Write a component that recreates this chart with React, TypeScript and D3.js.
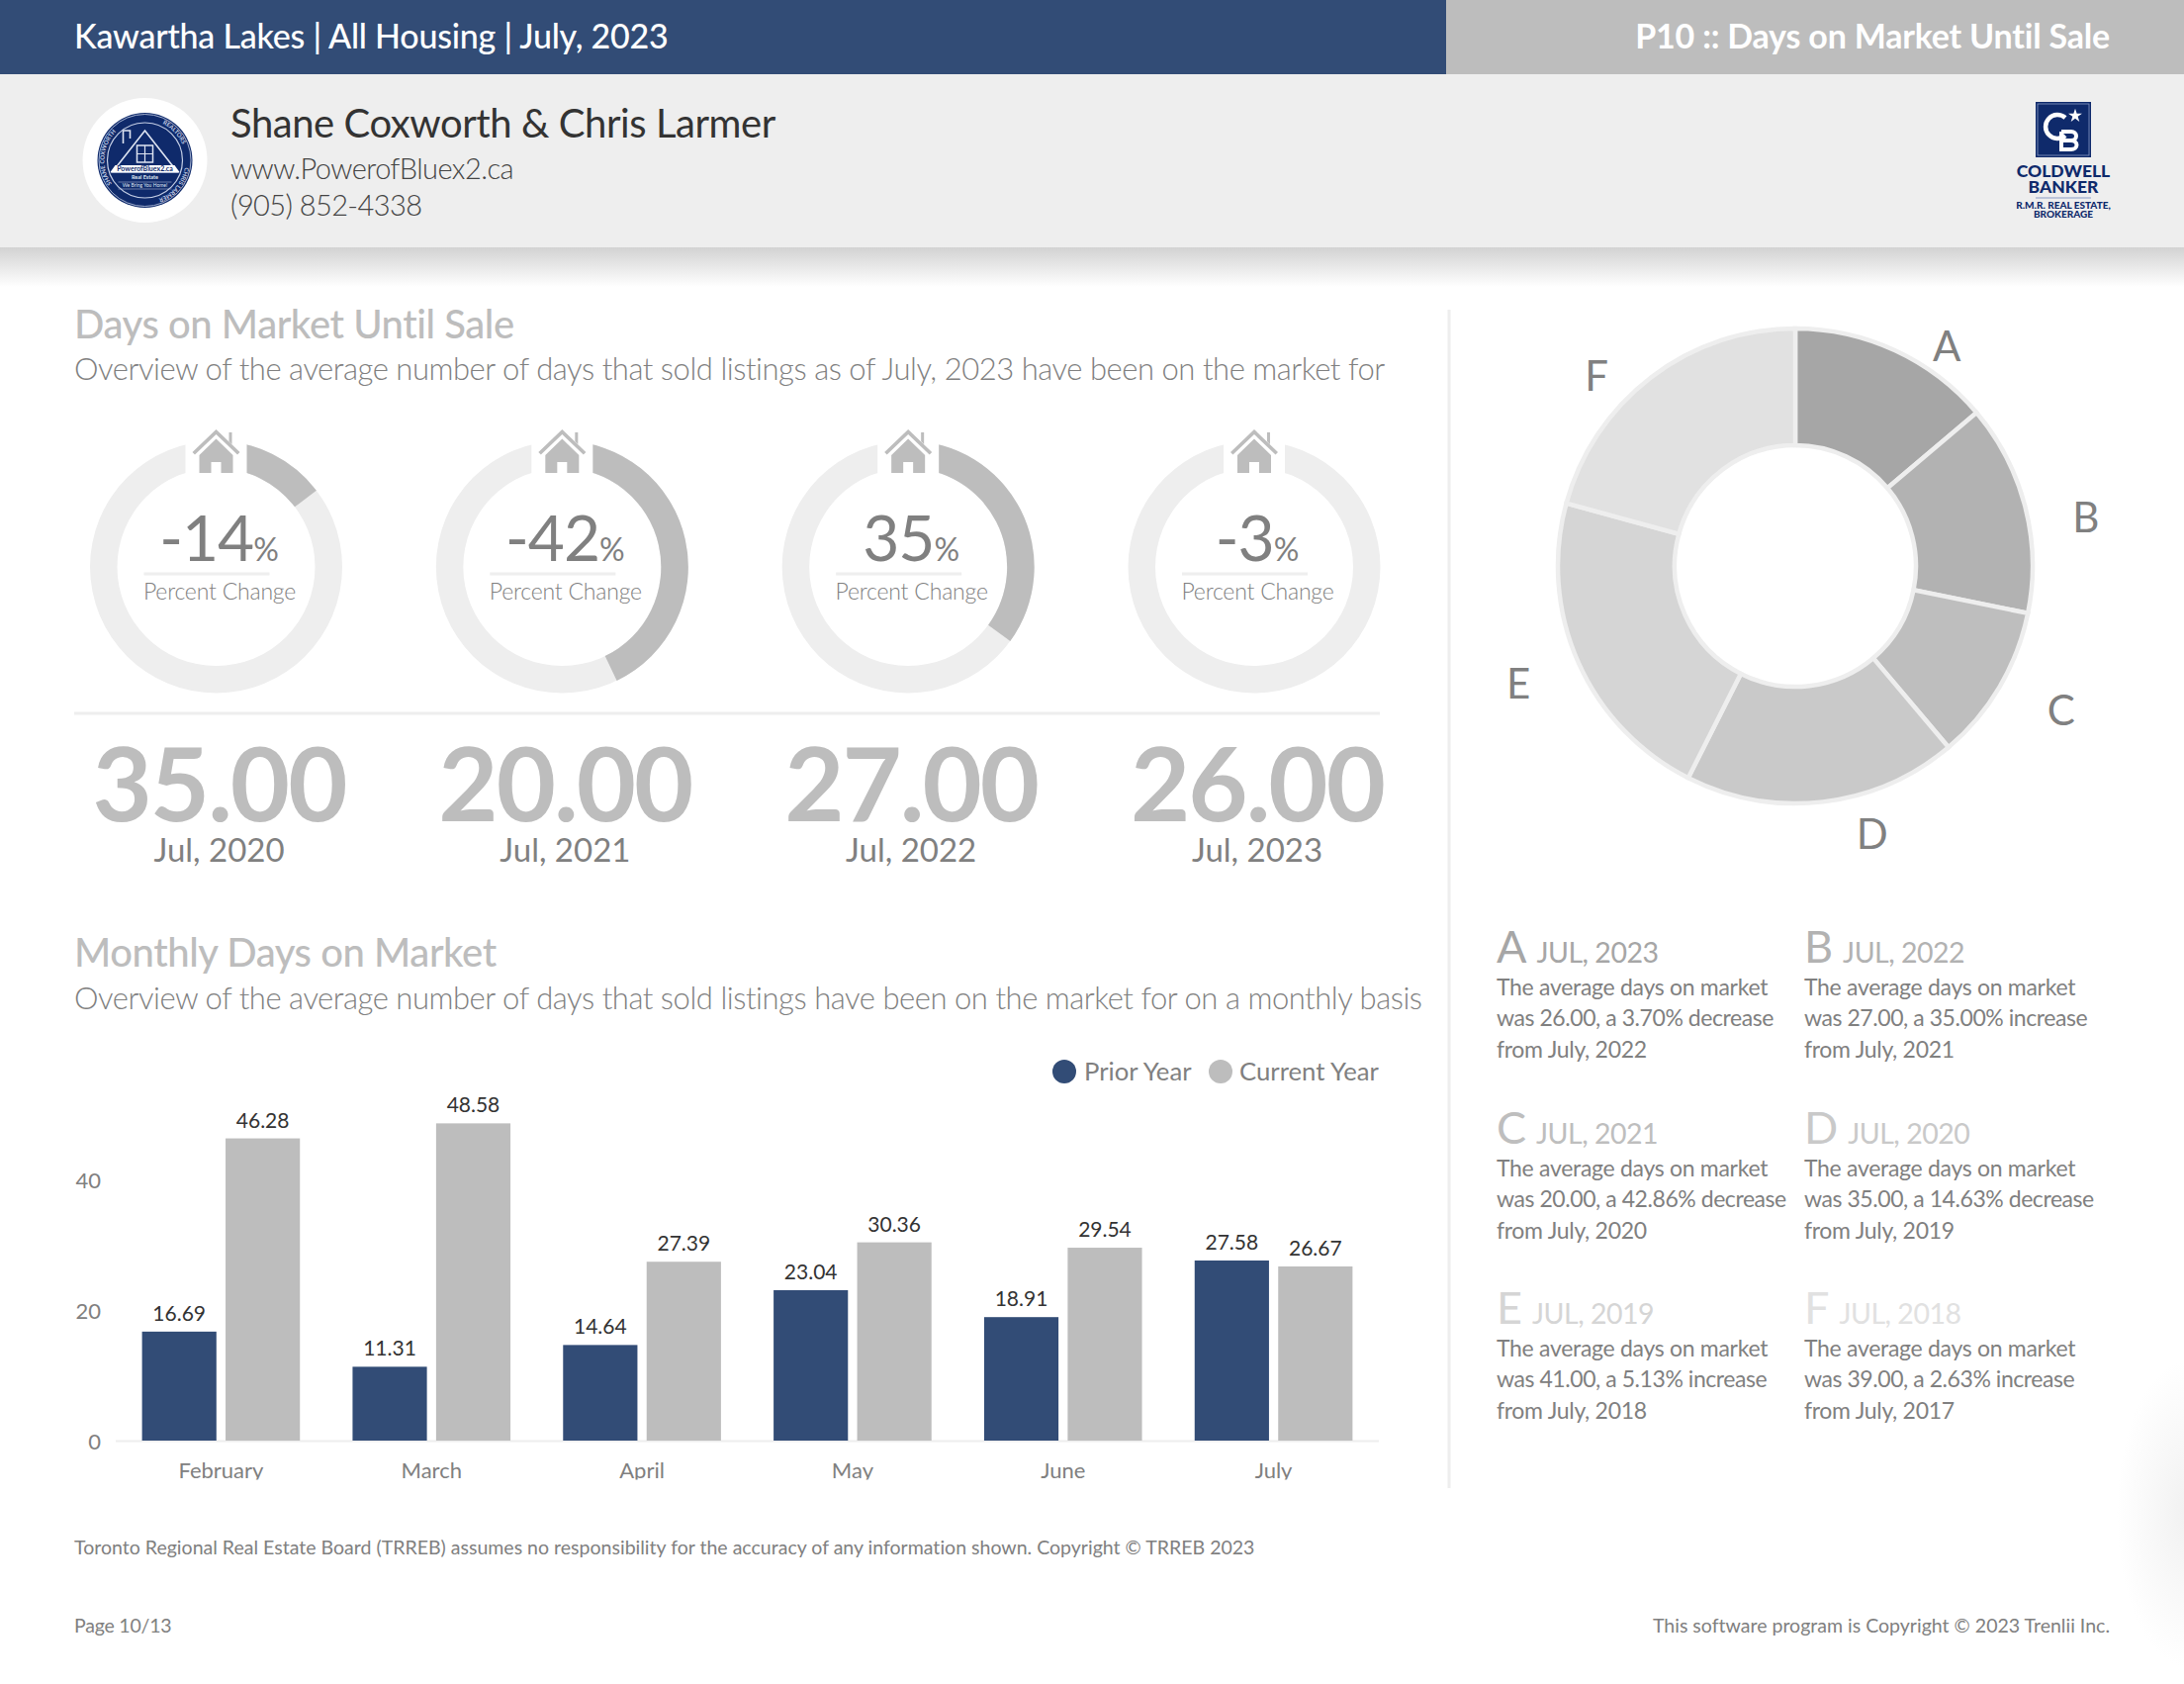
import { useEffect, useRef } from "react";
import * as d3 from "d3";

const NAVY = "#324c76";
const GREY = "#bdbdbd";
const LIGHT = "#eeeeee";
const TEXT = "#808080";
const LOGO = "#0f2a6b";

// gauges
const gaugeChange = [14.63, 42.86, 35.0, 3.7];
const gaugeLabels = ["-14", "-42", "35", "-3"];
const gaugeValues = ["35.00", "20.00", "27.00", "26.00"];
const gaugeDates = ["Jul, 2020", "Jul, 2021", "Jul, 2022", "Jul, 2023"];

// monthly bars
const months = ["February", "March", "April", "May", "June", "July"];
const priorYear = [16.69, 11.31, 14.64, 23.04, 18.91, 27.58];
const currentYear = [46.28, 48.58, 27.39, 30.36, 29.54, 26.67];
const yTicks = [0, 20, 40];

// pie
const pieKeys = ["A", "B", "C", "D", "E", "F"];
const pieValues = [26, 27, 20, 35, 41, 39];
const pieColors = ["#a6a6a6", "#b2b2b2", "#bebebe", "#c9c9c9", "#d5d5d5", "#e1e1e1"];
const pieLabelAngle = [34.6, 80.5, 118.6, 164, 247, 313.7];
const pieLabelRadius = [270, 298, 306, 282, 304, 278];

// notes under the pie
const noteDates = ["JUL, 2023", "JUL, 2022", "JUL, 2021", "JUL, 2020", "JUL, 2019", "JUL, 2018"];
const noteLine2 = [
  "was 26.00, a 3.70% decrease",
  "was 27.00, a 35.00% increase",
  "was 20.00, a 42.86% decrease",
  "was 35.00, a 14.63% decrease",
  "was 41.00, a 5.13% increase",
  "was 39.00, a 2.63% increase",
];
const noteLine3 = [
  "from July, 2022",
  "from July, 2021",
  "from July, 2020",
  "from July, 2019",
  "from July, 2018",
  "from July, 2017",
];

function App() {
  const svgRef = useRef<SVGSVGElement>(null);

  useEffect(() => {
    const svg = d3.select(svgRef.current);
    svg.selectAll("*").remove();

    const label = (
      g: any,
      x: number,
      y: number,
      s: string,
      size: number,
      fill: string,
      weight = 400,
      anchor = "start",
      spacing = 0
    ) =>
      g
        .append("text")
        .attr("x", x)
        .attr("y", y)
        .attr("font-size", size)
        .attr("font-weight", weight)
        .attr("fill", fill)
        .attr("text-anchor", anchor)
        .attr("letter-spacing", spacing)
        .text(s);

    const defs = svg.append("defs");
    const shadow = defs
      .append("linearGradient")
      .attr("id", "shadow")
      .attr("x1", 0)
      .attr("x2", 0)
      .attr("y1", 0)
      .attr("y2", 1);
    shadow.append("stop").attr("offset", 0).attr("stop-color", "#d2d2d2");
    shadow.append("stop").attr("offset", 1).attr("stop-color", "#ffffff");
    const corner = defs.append("radialGradient").attr("id", "corner");
    corner.append("stop").attr("offset", 0).attr("stop-color", "#f1f1f1");
    corner.append("stop").attr("offset", 1).attr("stop-color", "#ffffff");
    defs
      .append("clipPath")
      .attr("id", "axisClip")
      .append("rect")
      .attr("x", 60)
      .attr("y", 1000)
      .attr("width", 1400)
      .attr("height", 495.5);
    defs
      .append("path")
      .attr("id", "logoRing")
      .attr("d", "M0,41 A41,41 0 1 1 0,-41 A41,41 0 1 1 0,41");

    const root = svg
      .append("g")
      .attr("font-family", "Lato")
      .style("font-variant-ligatures", "none");
    root.append("rect").attr("width", 2208).attr("height", 1702).attr("fill", "#fff");
    root
      .append("ellipse")
      .attr("cx", 2212)
      .attr("cy", 1530)
      .attr("rx", 72)
      .attr("ry", 155)
      .attr("fill", "url(#corner)");

    // header
    root.append("rect").attr("width", 1462).attr("height", 75).attr("fill", NAVY);
    root.append("rect").attr("x", 1462).attr("width", 746).attr("height", 75).attr("fill", GREY);
    root.append("rect").attr("y", 75).attr("width", 2208).attr("height", 175).attr("fill", LIGHT);
    root.append("rect").attr("y", 250).attr("width", 2208).attr("height", 40).attr("fill", "url(#shadow)");
    label(root, 75, 49, "Kawartha Lakes | All Housing | July, 2023", 34, "#fff", 500, "start", -0.23);
    label(root, 2133, 49, "P10 :: Days on Market Until Sale", 34, "#fff", 700, "end", -0.2);
    label(root, 233, 139, "Shane Coxworth & Chris Larmer", 40, "#333", 400, "start", -0.44);
    label(root, 233, 181, "www.PowerofBluex2.ca", 29, "#444", 300, "start", -0.55);
    label(root, 233, 218, "(905) 852-4338", 29, "#444", 300, "start", -0.6);

    // round logo
    const logo = root.append("g").attr("transform", "translate(146.5,162)");
    logo.append("circle").attr("r", 63).attr("fill", "#fff");
    logo.append("circle").attr("r", 48).attr("fill", LOGO);
    logo.append("circle").attr("r", 46.5).attr("fill", "none").attr("stroke", "#c5cfe6").attr("stroke-width", 0.8);
    logo.append("circle").attr("r", 38).attr("fill", "none").attr("stroke", "#c5cfe6").attr("stroke-width", 1.2);
    logo
      .append("path")
      .attr("d", "M-33,12 L0,-30 L33,12 Z M-22,-17 V-30 H-15 V-22")
      .attr("fill", "none")
      .attr("stroke", "#dfe5f2")
      .attr("stroke-width", 1.6);
    logo.append("rect").attr("x", -8).attr("y", -15).attr("width", 16).attr("height", 17).attr("fill", "none").attr("stroke", "#dfe5f2").attr("stroke-width", 1.5);
    logo.append("path").attr("d", "M0,-15V2M-8,-6.5H8").attr("stroke", "#dfe5f2").attr("stroke-width", 1.2);
    logo.append("path").attr("d", "M-30,5 H30 L35,12 H-35 Z").attr("fill", "#fff");
    label(logo, 0, 11, "PowerofBluex2.ca", 7, LOGO, 700, "middle");
    label(logo, 0, 19, "Real Estate", 5.5, "#dfe5f2", 700, "middle");
    label(logo, 0, 27, "We Bring You Home!", 5, "#dfe5f2", 400, "middle");
    logo.append("path").attr("d", "M-27,22 H27 M-27,29 H27").attr("stroke", "#c5cfe6").attr("stroke-width", 0.5);
    [
      ["SHANE COXWORTH", 39],
      ["REALTORS", 147],
      ["CHRIS LARMER", 200],
    ].forEach(([s, off]: any) => {
      logo
        .append("text")
        .attr("font-size", 6)
        .attr("font-weight", 700)
        .attr("fill", "#c5cfe6")
        .append("textPath")
        .attr("href", "#logoRing")
        .attr("startOffset", off)
        .text(s);
    });

    // coldwell banker logo
    const cb = root.append("g").attr("transform", "translate(2086,160)");
    cb.append("rect").attr("x", -28).attr("y", -57).attr("width", 56).attr("height", 56).attr("fill", LOGO);
    cb.append("rect").attr("x", -26).attr("y", -55).attr("width", 52).attr("height", 52).attr("fill", "none").attr("stroke", "#8b9cc5").attr("stroke-width", 0.8);
    cb.append("path").attr("d", "M2,-41 A12,12 0 1 0 2,-23").attr("fill", "none").attr("stroke", "#fff").attr("stroke-width", 4.5);
    cb.append("path")
      .attr("d", "M-2,-27 H8 a5,4.5 0 0 1 0,9 H-2 M8,-18 a5.5,4.5 0 0 1 0,9 H-2 V-27")
      .attr("fill", "none")
      .attr("stroke", "#fff")
      .attr("stroke-width", 4);
    cb.append("path")
      .attr("d", d3.symbol(d3.symbolStar, 60)() as string)
      .attr("transform", "translate(12,-43)")
      .attr("fill", "#fff");
    label(cb, 0, 19, "COLDWELL", 17.5, LOGO, 900, "middle");
    label(cb, 0, 35, "BANKER", 17.5, LOGO, 900, "middle");
    cb.append("line").attr("x1", -28).attr("x2", 28).attr("y1", 40).attr("y2", 40).attr("stroke", "#8b9cc5");
    label(cb, 0, 51, "R.M.R. REAL ESTATE,", 10, LOGO, 900, "middle");
    label(cb, 0, 60, "BROKERAGE", 10, LOGO, 900, "middle");

    // section titles
    label(root, 75, 342, "Days on Market Until Sale", 40, GREY, 500, "start", -0.45);
    label(root, 75, 384, "Overview of the average number of days that sold listings as of July, 2023 have been on the market for", 31, TEXT, 300, "start", -0.46);
    label(root, 75, 977, "Monthly Days on Market", 40, GREY, 500, "start", -0.45);
    label(root, 75, 1020, "Overview of the average number of days that sold listings have been on the market for on a monthly basis", 31, TEXT, 300, "start", -0.46);

    // dividers
    root.append("line").attr("x1", 1465).attr("x2", 1465).attr("y1", 313).attr("y2", 1504).attr("stroke", LIGHT).attr("stroke-width", 3);
    root.append("line").attr("x1", 75).attr("x2", 1395).attr("y1", 721).attr("y2", 721).attr("stroke", LIGHT).attr("stroke-width", 3);

    // gauges
    const gaugeX = d3.scalePoint().domain(gaugeLabels).range([218.5, 1268]);
    const pct = d3.scaleLinear().domain([0, 100]).range([0, 2 * Math.PI]);
    const ring = d3.arc().innerRadius(100).outerRadius(127.5);
    gaugeLabels.forEach((name, i) => {
      const g = root.append("g").attr("transform", `translate(${gaugeX(name)},573)`);
      g.append("path").attr("d", ring({ startAngle: 0, endAngle: 2 * Math.PI } as any)).attr("fill", LIGHT);
      g.append("path").attr("d", ring({ startAngle: 0, endAngle: pct(gaugeChange[i]) } as any)).attr("fill", GREY);
      g.append("rect").attr("x", -31).attr("y", -135).attr("width", 62).attr("height", 50).attr("fill", "#fff");
      // house
      g.append("path")
        .attr("d", "M-24,-116 L0,-139 L24,-116 L21.5,-113.5 L0,-134 L-21.5,-113.5 Z M13,-136 H16 V-124 L13,-127 Z")
        .attr("fill", GREY);
      g.append("path")
        .attr("d", "M0,-129.5 L17,-113 V-95 H5 V-106 H-5 V-95 H-17 V-113 Z")
        .attr("fill", GREY);

      const big = label(g, 3, -6, name, 64, TEXT, 400, "middle", -1);
      big.append("tspan").attr("font-size", 32).attr("letter-spacing", 0).text("%");
      g.append("rect").attr("x", -73).attr("y", 5.5).attr("width", 127).attr("height", 3).attr("fill", LIGHT);
      label(g, 3.5, 33, "Percent Change", 23, TEXT, 300, "middle", -0.2);

      label(g, 3, 257, gaugeValues[i], 104, GREY, 700, "middle", -2);
      label(g, 3, 298, gaugeDates[i], 33, TEXT, 400, "middle");
    });

    // bars
    const x0 = d3.scaleBand().domain(months).range([117, 1394]).paddingInner(0.25).paddingOuter(0.125);
    const x1 = d3.scaleBand().domain(["prior", "current"]).range([0, x0.bandwidth()]).paddingInner(0.11);
    const y = d3.scaleLinear().domain([0, 50]).range([1456, 1126]);

    root.append("line").attr("x1", 117).attr("x2", 1394).attr("y1", 1456.5).attr("y2", 1456.5).attr("stroke", LIGHT).attr("stroke-width", 2);

    yTicks.forEach((t) => {
      label(root, 102, y(t) + 9, String(t), 22, TEXT, 400, "end");
    });

    const axisLabels = root.append("g").attr("clip-path", "url(#axisClip)");
    months.forEach((m, i) => {
      label(axisLabels, x0(m)! + x0.bandwidth() / 2, 1494, m, 22, TEXT, 400, "middle");
      [
        ["prior", priorYear[i], NAVY],
        ["current", currentYear[i], GREY],
      ].forEach(([key, v, color]: any) => {
        const bx = x0(m)! + x1(key)!;
        root
          .append("rect")
          .attr("x", bx)
          .attr("y", y(v))
          .attr("width", x1.bandwidth())
          .attr("height", y(0) - y(v))
          .attr("fill", color);
        label(root, bx + x1.bandwidth() / 2, y(v) - 11, d3.format(".2f")(v), 21, "#333", 400, "middle");
      });
    });

    // legend
    root.append("circle").attr("cx", 1076).attr("cy", 1083).attr("r", 12).attr("fill", NAVY);
    label(root, 1096, 1092, "Prior Year", 25.7, TEXT);
    root.append("circle").attr("cx", 1234).attr("cy", 1083).attr("r", 12).attr("fill", GREY);
    label(root, 1253, 1092, "Current Year", 25.7, TEXT);

    // pie
    const pieG = root.append("g").attr("transform", "translate(1815,572)");
    const arcs = d3.pie<number>().sort(null)(pieValues);
    const pieArc = d3.arc().innerRadius(122).outerRadius(240);
    arcs.forEach((a, i) => {
      pieG
        .append("path")
        .attr("d", pieArc(a as any))
        .attr("fill", pieColors[i])
        .attr("stroke", LIGHT)
        .attr("stroke-width", 4.5);
      const ang = (pieLabelAngle[i] * Math.PI) / 180;
      label(
        pieG,
        Math.sin(ang) * pieLabelRadius[i],
        -Math.cos(ang) * pieLabelRadius[i] + 15,
        pieKeys[i],
        42,
        TEXT,
        400,
        "middle"
      );
    });

    // notes
    const noteX = d3.scaleOrdinal<number, number>().domain([0, 1]).range([1513, 1824]);
    pieKeys.forEach((k, i) => {
      const col = i % 2;
      const row = Math.floor(i / 2);
      const top = 973 + row * 182.5;
      const g = root.append("g").attr("transform", `translate(${noteX(col)},${top})`);
      const head = label(g, 0, 0, k, 45, pieColors[i]);
      head.append("tspan").attr("dx", 10).attr("font-size", 28.5).attr("letter-spacing", -0.5).text(noteDates[i]);
      label(g, 0, 33, "The average days on market", 23, TEXT, 400, "start", -0.3);
      label(g, 0, 64, noteLine2[i], 23, TEXT, 400, "start", -0.44);
      label(g, 0, 96, noteLine3[i], 23, TEXT, 400, "start", -0.3);
    });

    // footer
    label(root, 75, 1571, "Toronto Regional Real Estate Board (TRREB) assumes no responsibility for the accuracy of any information shown. Copyright © TRREB 2023", 19.55, TEXT);
    label(root, 75, 1650, "Page 10/13", 19.5, TEXT, 400, "start", -0.2);
    label(root, 2133, 1650, "This software program is Copyright © 2023 Trenlii Inc.", 19.55, TEXT, 400, "end");
  }, []);

  return (
    <svg
      ref={svgRef}
      width={2208}
      height={1702}
      style={{ position: "absolute", left: 0, top: 0, display: "block" }}
    />
  );
}

export default App;
